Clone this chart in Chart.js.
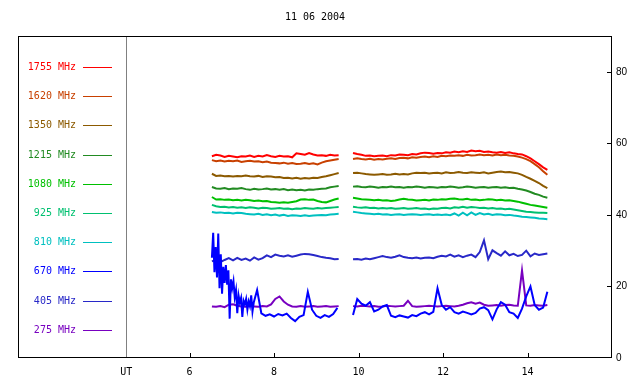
<!DOCTYPE html>
<html><head><meta charset="utf-8">
<script src="https://cdn.jsdelivr.net/npm/chart.js@4/dist/chart.umd.min.js"></script>
<style>html,body{margin:0;padding:0;background:#fff}canvas{display:block}</style>
</head><body>
<canvas id="c" width="640" height="384"></canvas>
<script>
const chartTitle = '11 06 2004';
const times = [6.53,6.63,6.73,6.83,6.93,7.03,7.13,7.23,7.33,7.43,7.53,7.63,7.73,7.83,7.93,8.03,8.13,8.23,8.33,8.43,8.53,8.63,8.73,8.83,8.93,9.03,9.13,9.23,9.33,9.43,9.53,
  9.70,
  9.87,9.97,10.07,10.17,10.27,10.37,10.47,10.57,10.67,10.77,10.87,10.97,11.07,11.17,11.27,11.37,11.47,11.57,11.67,11.77,11.87,11.97,12.07,12.17,12.27,12.37,12.47,12.57,12.67,12.77,12.87,12.97,13.07,13.17,13.27,13.37,13.47,13.57,13.67,13.77,13.87,13.97,14.07,14.17,14.27,14.37,14.47];
const t670 = [6.53,6.56,6.59,6.62,6.65,6.68,6.71,6.74,6.77,6.80,6.83,6.86,6.89,6.92,6.95,6.98,7.01,7.04,7.07,7.10,7.13,7.16,7.19,7.22,7.25,7.28,7.31,7.34,7.37,7.40,7.43,7.46,7.49,7.52,
  7.6,7.7,7.8,7.9,8.0,8.1,8.2,8.3,8.4,8.5,8.6,8.7,8.8,8.9,9.0,9.1,9.2,9.3,9.4,9.5,
  9.70,
  9.87,9.97,10.07,10.17,10.27,10.37,10.47,10.57,10.67,10.77,10.87,10.97,11.07,11.17,11.27,11.37,11.47,11.57,11.67,11.77,11.87,11.97,12.07,12.17,12.27,12.37,12.47,12.57,12.67,12.77,12.87,12.97,13.07,13.17,13.27,13.37,13.47,13.57,13.67,13.77,13.87,13.97,14.07,14.17,14.27,14.37,14.47];

const mhz1755 = [56.4,56.8,56.6,56.2,56.5,56.3,56.1,56.4,56.3,56.6,56.2,56.5,56.3,56.7,56.4,56.2,56.5,56.3,56.4,56.1,57.2,57.0,56.8,57.3,56.9,56.6,56.7,56.5,56.8,56.6,56.7,
  null,
  57.3,57.0,56.8,56.5,56.6,56.4,56.5,56.6,56.4,56.7,56.6,56.9,56.8,56.7,57.0,56.9,57.2,57.4,57.3,57.1,57.3,57.2,57.5,57.4,57.7,57.5,57.8,57.6,58.0,57.8,57.9,57.6,57.7,57.5,57.4,57.6,57.3,57.5,57.2,57.0,56.9,56.4,55.8,55.0,54.2,53.3,52.6];
const mhz1620 = [55.3,55.0,55.2,54.9,55.1,55.0,55.2,54.8,55.0,55.1,54.9,55.0,54.7,54.9,54.6,54.5,54.4,54.6,54.3,54.5,54.2,54.3,54.5,54.2,54.4,54.1,54.6,55.0,55.2,55.4,55.6,
  null,
  55.6,55.8,55.6,55.5,55.7,55.4,55.6,55.5,55.7,55.8,55.6,55.9,56.0,55.8,56.1,56.0,56.2,56.3,56.1,56.4,56.2,56.5,56.4,56.6,56.5,56.7,56.5,56.8,56.6,56.7,56.9,56.7,56.8,56.6,56.9,56.7,56.8,56.6,56.5,56.3,56.0,55.6,55.0,54.2,53.3,52.2,51.2];
const mhz1350 = [51.5,50.9,51.0,50.8,50.9,50.7,50.9,50.8,51.0,50.8,50.7,50.9,50.6,50.8,50.7,50.5,50.6,50.3,50.4,50.2,50.4,50.1,50.3,50.2,50.4,50.3,50.6,50.8,51.1,51.4,51.7,
  null,
  51.7,51.8,51.6,51.4,51.3,51.2,51.3,51.4,51.2,51.3,51.5,51.3,51.4,51.3,51.6,51.8,51.7,51.8,51.6,51.7,51.8,51.6,51.9,51.7,51.8,52.0,51.8,51.7,51.9,51.8,51.7,51.9,51.6,51.8,52.0,52.1,51.9,52.0,51.8,51.6,51.2,50.6,50.1,49.5,48.9,48.1,47.5];
const mhz1215 = [47.8,47.4,47.3,47.5,47.2,47.4,47.3,47.5,47.2,47.0,47.3,47.1,47.2,47.4,47.1,47.2,47.0,47.2,46.9,47.1,46.9,47.0,46.8,47.1,47.0,47.2,47.3,47.4,47.7,47.9,48.1,
  null,
  47.9,48.0,47.8,47.7,47.9,47.8,47.6,47.8,47.7,47.9,47.7,47.8,47.6,47.8,47.7,47.9,47.8,47.6,47.8,47.7,47.6,47.8,47.7,47.9,47.8,47.6,47.7,47.9,47.8,47.6,47.7,47.8,47.6,47.7,47.8,47.6,47.7,47.5,47.6,47.3,47.1,46.8,46.4,45.9,45.6,45.1,44.8];
const mhz1080 = [45.0,44.3,44.4,44.2,44.3,44.1,44.2,44.0,44.2,44.1,43.9,44.0,43.8,43.9,43.6,43.5,43.4,43.5,43.4,43.6,43.8,44.3,44.4,44.2,44.3,43.9,43.6,43.5,43.9,44.3,44.6,
  null,
  44.8,44.6,44.4,44.3,44.2,44.1,44.2,44.0,44.1,43.9,44.0,44.3,44.5,44.3,44.2,44.0,44.1,44.2,44.0,44.3,44.2,44.4,44.3,44.5,44.6,44.4,44.3,44.5,44.2,44.3,44.1,44.2,44.4,44.3,44.1,44.2,44.0,44.1,43.9,43.7,43.4,43.1,42.8,42.6,42.4,42.2,42.0];
const mhz925 = [42.8,42.4,42.2,42.3,42.1,42.2,42.0,42.1,41.9,42.1,42.0,41.8,42.0,41.9,41.7,41.8,41.9,41.7,41.8,41.6,41.8,41.7,41.9,41.8,41.7,41.9,41.8,41.9,42.0,42.1,42.2,
  null,
  42.3,42.1,42.0,42.1,41.9,42.0,41.8,41.9,41.8,41.9,41.7,41.8,41.9,41.7,41.8,41.9,41.7,41.8,41.6,41.8,41.7,41.9,42.0,41.8,42.1,42.0,42.3,42.0,42.2,42.1,41.9,42.0,41.8,41.9,41.7,41.8,41.6,41.7,41.5,41.3,41.1,40.9,40.8,40.7,40.6,40.6,40.5];
const mhz810 = [40.8,40.6,40.7,40.5,40.6,40.4,40.6,40.5,40.3,40.2,40.1,40.3,40.0,40.2,39.9,40.1,39.8,40.0,39.7,39.9,39.8,39.7,39.9,39.7,39.8,39.9,40.0,39.9,40.1,40.2,40.3,
  null,
  40.9,40.7,40.5,40.4,40.3,40.2,40.3,40.1,40.2,40.0,40.1,40.2,40.0,40.1,40.2,40.1,40.0,40.1,40.2,40.0,40.1,40.0,40.1,39.9,40.4,39.8,40.6,39.9,40.7,40.0,40.5,40.1,40.3,40.0,40.2,40.1,39.9,40.0,39.8,39.7,39.5,39.4,39.3,39.2,39.0,38.9,38.8];
const mhz670 = [28.0,35.0,24.0,31.0,22.5,34.8,19.5,29.0,18.0,25.5,21.0,26.0,20.5,24.5,11.0,22.0,19.5,21.5,17.0,19.0,12.5,17.5,15.5,16.8,11.5,16.0,15.0,16.5,13.5,15.8,14.5,17.5,13.0,15.5,
  19.0,12.5,11.8,12.2,11.6,12.3,11.9,12.4,11.2,10.3,11.5,12.0,18.5,13.5,11.8,11.2,12.0,11.5,12.3,14.0,
  null,
  12.0,16.5,15.2,14.6,15.6,13.0,13.5,14.4,14.8,11.8,11.4,11.9,11.6,11.3,12.0,11.7,12.4,12.8,12.2,12.9,19.5,14.8,13.5,14.2,12.8,12.4,13.0,12.6,12.2,12.6,13.8,14.2,13.4,10.8,13.6,15.6,14.9,12.8,12.4,11.2,13.8,17.2,20.0,14.8,13.5,14.1,18.5];
const mhz405 = [27.0,27.5,26.8,27.4,27.9,27.3,28.0,27.4,27.8,27.2,28.1,27.5,27.9,28.7,28.2,28.9,28.6,28.4,28.7,28.3,28.6,28.9,29.1,29.0,28.8,28.5,28.2,28.0,27.9,27.6,27.7,
  null,
  27.6,27.7,27.5,27.8,27.6,27.9,28.2,28.5,28.2,28.0,28.3,28.7,28.2,28.0,27.9,28.1,27.8,28.0,28.1,27.9,28.3,28.6,28.4,28.9,28.3,28.7,28.2,28.6,28.9,28.2,29.6,32.9,27.6,30.1,29.3,28.6,29.8,28.7,29.1,28.5,28.8,30.0,28.4,29.2,28.8,29.0,29.2];
const mhz275 = [14.4,14.3,14.5,14.2,14.9,15.0,14.6,14.4,14.3,14.5,14.4,14.3,14.5,14.4,15.0,16.5,17.2,15.8,14.9,14.4,14.3,14.5,14.3,14.4,14.5,14.3,14.4,14.5,14.3,14.4,14.5,
  null,
  14.5,14.4,14.6,14.5,14.4,14.5,14.3,14.4,14.6,14.5,14.4,14.5,14.6,16.0,14.5,14.3,14.4,14.5,14.6,14.5,14.4,14.5,14.6,14.5,14.4,14.6,14.9,15.3,15.6,15.2,15.5,14.9,14.6,14.7,14.8,14.6,14.8,14.9,14.7,14.6,24.5,14.7,14.6,14.8,14.7,14.6,14.8];

const seriesNames = ['1755 MHz','1620 MHz','1350 MHz','1215 MHz','1080 MHz','925 MHz','810 MHz','670 MHz','405 MHz','275 MHz'];
const seriesColors = ['#ff0000','#c84000','#8c5a00','#228b22','#00c000','#00c070','#00c0c0','#0000ff','#2828c8','#7800c0'];
const seriesValues = [mhz1755,mhz1620,mhz1350,mhz1215,mhz1080,mhz925,mhz810,mhz670,mhz405,mhz275];
const seriesTimes = [times,times,times,times,times,times,times,t670,times,times];
const xTickValues = [4.5,6,8,10,12,14];
const yTickValues = [0,20,40,60,80];

function pairs(ts, vs){ return ts.map((t,i)=>({x:t,y:vs[i]})); }

const datasets = seriesNames.map((n,i)=>({
  label:n,
  data:pairs(seriesTimes[i], seriesValues[i]),
  borderColor:seriesColors[i],
  backgroundColor:seriesColors[i],
  borderWidth:2,
  pointRadius:0,
  tension:0,
  spanGaps:false,
  fill:false
}));

const framePlugin = {
  id:'frame',
  afterDraw(chart){
    const {ctx, chartArea:a, scales} = chart;
    ctx.save();
    ctx.strokeStyle='#000'; ctx.lineWidth=1;
    const L=Math.round(a.left), T=Math.round(a.top), R=Math.round(a.right)-1, B=Math.round(a.bottom)-1;
    ctx.strokeRect(L+0.5,T+0.5,R-L,B-T);
    ctx.beginPath();
    xTickValues.forEach(v=>{ if(v===4.5) return; const x=Math.round(scales.x.getPixelForValue(v))+0.5; ctx.moveTo(x,B+0.5); ctx.lineTo(x,B-4); });
    yTickValues.forEach(v=>{ if(v===0) return; const y=Math.round(scales.y.getPixelForValue(v))+0.5; ctx.moveTo(R+0.5,y); ctx.lineTo(R-4,y); });
    ctx.stroke();
    ctx.font='10px "DejaVu Sans Mono", monospace';
    ctx.textAlign='right'; ctx.textBaseline='middle';
    seriesNames.forEach((n,i)=>{
      const y=Math.round(a.top+31+i*29.2);
      ctx.fillStyle=seriesColors[i];
      ctx.fillText(n, a.left+58, y+0.5);
      ctx.strokeStyle=seriesColors[i];
      ctx.lineWidth=1;
      ctx.beginPath(); ctx.moveTo(a.left+65,y+0.5); ctx.lineTo(a.left+94,y+0.5); ctx.stroke();
    });
    ctx.restore();
  }
};

new Chart(document.getElementById('c'), {
  type:'line',
  data:{datasets},
  options:{
    responsive:false,
    animation:false,
    layout:{padding:{left:18,right:0,top:0,bottom:0}},
    plugins:{
      legend:{display:false},
      tooltip:{enabled:false},
      title:{display:true,text:chartTitle,fullSize:false,color:'#000',
        font:{family:'"DejaVu Sans Mono", monospace',size:10,weight:'normal'},
        padding:{top:11,bottom:13}}
    },
    scales:{
      x:{type:'linear',position:'bottom',min:1.94,max:16,
        afterBuildTicks(s){ s.ticks = xTickValues.map(v=>({value:v})); },
        afterFit(s){ s.height=26; },
        grid:{drawTicks:false,color:c=>(c.tick&&c.tick.value===4.5)?'#808080':'rgba(0,0,0,0)',lineWidth:1},
        border:{display:false},
        ticks:{autoSkip:false,maxRotation:0,padding:8,color:'#000',
          font:{family:'"DejaVu Sans Mono", monospace',size:10},
          callback:v=>v===4.5?'UT':String(v)}
      },
      y:{type:'linear',position:'right',min:0,max:90,
        afterBuildTicks(s){ s.ticks = yTickValues.map(v=>({value:v})); },
        afterFit(s){ s.width=28; },
        grid:{display:false,drawTicks:false},
        border:{display:false},
        ticks:{padding:4,color:'#000',font:{family:'"Liberation Sans", sans-serif',size:10}}
      }
    }
  },
  plugins:[framePlugin]
});
</script>
</body></html>
